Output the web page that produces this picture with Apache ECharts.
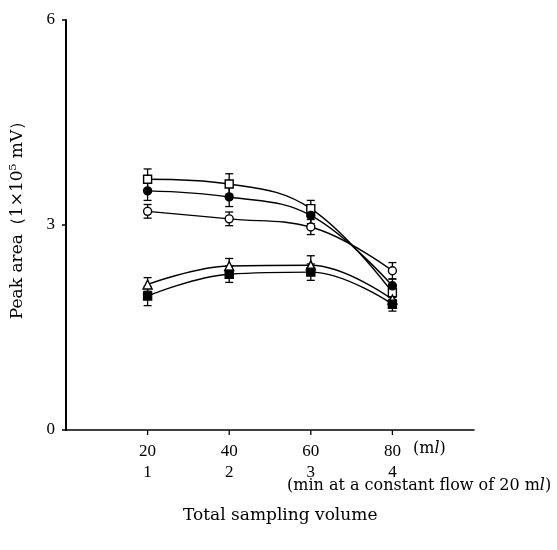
<!DOCTYPE html>
<html>
<head>
<meta charset="utf-8">
<script src="https://cdn.jsdelivr.net/npm/echarts@6/dist/echarts.min.js"></script>
<style>
  html, body { margin: 0; padding: 0; background: #fff; }
  #chart { width: 557px; height: 550px; }
</style>
</head>
<body>
<div id="chart"></div>
<script>
    // sampling volume (ml) and time (min)
    var volumes = [20, 40, 60, 80];
    var minutes = [1, 2, 3, 4];

    // peak area (x 10^5 mV) per compound
    var openSquare   = [3.67, 3.60, 3.24, 2.01];
    var filledCircle = [3.50, 3.41, 3.14, 2.11];
    var openCircle   = [3.20, 3.09, 2.97, 2.33];
    var openTriangle = [2.13, 2.40, 2.41, 1.91];
    var filledSquare = [1.96, 2.28, 2.31, 1.84];

    // error bar half-heights
    var errOpenSquare   = [0.15, 0.15, 0.12, 0.10];
    var errFilledCircle = [0.14, 0.14, 0.12, 0.10];
    var errOpenCircle   = [0.10, 0.10, 0.11, 0.12];
    var errOpenTriangle = [0.10, 0.11, 0.14, 0.10];
    var errFilledSquare = [0.14, 0.12, 0.12, 0.10];

    var font = 'Liberation Serif';
    var textFont = 'DejaVu Serif';

    var groups = [
        { values: openSquare,   errors: errOpenSquare,   symbol: 'rect',     fill: '#fff' },
        { values: filledCircle, errors: errFilledCircle, symbol: 'circle',   fill: '#000' },
        { values: openCircle,   errors: errOpenCircle,   symbol: 'circle',   fill: '#fff' },
        { values: openTriangle, errors: errOpenTriangle, symbol: 'triangle', fill: '#fff' },
        { values: filledSquare, errors: errFilledSquare, symbol: 'rect',     fill: '#000' }
    ];

    function pairs(values) {
        return volumes.map(function (v, i) { return [v, values[i]]; });
    }

    // 误差线
    function errorBar(params, api) {
        var x = api.value(0);
        var hi = api.coord([x, api.value(1) + api.value(2)]);
        var lo = api.coord([x, api.value(1) - api.value(2)]);
        var w = 4;
        var style = { stroke: '#000', lineWidth: 1.3 };
        return {
            type: 'group',
            children: [
                { type: 'line', shape: { x1: hi[0], y1: hi[1], x2: lo[0], y2: lo[1] }, style: style },
                { type: 'line', shape: { x1: hi[0] - w, y1: hi[1], x2: hi[0] + w, y2: hi[1] }, style: style },
                { type: 'line', shape: { x1: lo[0] - w, y1: lo[1], x2: lo[0] + w, y2: lo[1] }, style: style }
            ]
        };
    }

    // x-axis tick marks at the sampling volumes only
    function xTick(params, api) {
        var p = api.coord([api.value(0), 0]);
        return { type: 'line', shape: { x1: p[0], y1: p[1], x2: p[0], y2: p[1] + 5 },
            style: { stroke: '#000', lineWidth: 1.3 } };
    }

    var series = [{
        type: 'custom',
        silent: true,
        renderItem: xTick,
        data: volumes.map(function (v) { return [v, 0]; })
    }];
    groups.forEach(function (g) {
        series.push({
            type: 'custom',
            renderItem: errorBar,
            z: 1,
            data: volumes.map(function (v, i) { return [v, g.values[i], g.errors[i]]; })
        });
    });
    groups.forEach(function (g) {
        series.push({
            type: 'line',
            smooth: 0.4,
            z: 3,
            data: pairs(g.values),
            symbol: g.symbol,
            symbolSize: g.symbol === 'triangle' ? 9 : 8,
            lineStyle: { color: '#000', width: 1.4 },
            itemStyle: { color: g.fill, borderColor: '#000', borderWidth: 1.4 }
        });
    });

    var italicL = { i: { fontStyle: 'italic', fontFamily: textFont, fontSize: 16 } };

    var chart = echarts.init(document.getElementById('chart'));
    chart.setOption({
        animation: false,
        backgroundColor: '#fff',
        grid: { left: 66, top: 20, right: 83, bottom: 120 },
        xAxis: {
            type: 'value',
            min: 0,
            max: 100,
            interval: 20,
            splitLine: { show: false },
            axisLine: { lineStyle: { color: '#000', width: 1.5 } },
            axisTick: { show: false },
            axisLabel: {
                color: '#000',
                fontFamily: font,
                fontSize: 17,
                lineHeight: 21,
                margin: 11,
                formatter: function (v) {
                    var i = volumes.indexOf(v);
                    return i < 0 ? '' : v + '\n' + minutes[i];
                }
            }
        },
        yAxis: {
            type: 'value',
            min: 0,
            max: 6,
            interval: 3,
            splitLine: { show: false },
            axisLine: { lineStyle: { color: '#000', width: 2 } },
            axisTick: { length: 4, lineStyle: { color: '#000', width: 1.5 } },
            axisLabel: { color: '#000', fontFamily: font, fontSize: 17, margin: 11 }
        },
        graphic: [
            {
                type: 'text', x: 18, y: 216, rotation: Math.PI / 2,
                style: { text: 'Peak area（1×10⁵ mV）', fill: '#000', font: '17px "DejaVu Serif"',
                    textAlign: 'center', textVerticalAlign: 'middle' }
            },
            {
                type: 'text', left: 413, top: 441,
                style: { text: '(m{i|l})', fill: '#000', font: '16px "DejaVu Serif"', rich: italicL }
            },
            {
                type: 'text', left: 287, top: 478,
                style: { text: '(min at a constant flow of 20 m{i|l})', fill: '#000', font: '16px "DejaVu Serif"', rich: italicL }
            },
            {
                type: 'text', left: 183, top: 507,
                style: { text: 'Total sampling volume', fill: '#000', font: '17px "DejaVu Serif"' }
            }
        ],
        series: series
    });
</script>
</body>
</html>
